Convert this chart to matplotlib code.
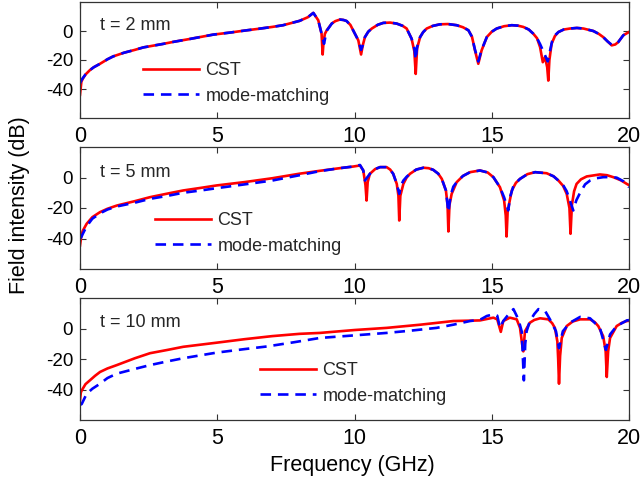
import numpy as np
import matplotlib
matplotlib.use("Agg")
import matplotlib.pyplot as plt

plt.rcParams['font.family'] = ['Liberation Sans', 'DejaVu Sans']
plt.rcParams['axes.unicode_minus'] = False

# ---------------- data (frequency GHz, field intensity dB) ----------------
panel_labels = ["t = 2 mm", "t = 5 mm", "t = 10 mm"]
series_names = ["CST", "mode-matching"]
x_ticks = [0, 5, 10, 15, 20]
y_ticks = [-40, -20, 0]

cst_2mm = [(0, -44), (0.05, -35), (0.1, -33), (0.2, -30), (0.36, -27), (0.5, -25), (0.73, -22.6),
           (1.0, -19.5), (1.21, -17.5), (1.6, -15), (2.0, -13), (2.31, -11.3), (3.0, -9), (3.4, -7.5),
           (4.0, -5.5), (4.85, -2.5), (5.5, -1), (6.0, 0.3), (6.5, 1.5), (7.0, 2.8), (7.4, 4), (8.0, 7),
           (8.3, 9.5), (8.5, 12.5), (8.68, 7.4), (8.8, -1.8), (8.84, -16.2), (8.87, -8), (8.92, -2),
           (8.99, 0.5), (9.17, 5.1), (9.3, 6.8), (9.47, 7.9), (9.6, 7.6), (9.71, 6.9), (9.85, 4.2),
           (9.95, 0.5), (10.14, -6.5), (10.24, -16.2),
           (10.3, -10), (10.38, -4.2), (10.5, -0.5), (10.63, 1.7), (10.85, 4.3), (11.05, 5.6),
           (11.3, 5.8), (11.54, 5.1), (11.75, 3.6), (11.9, 1.7), (12.08, -5.3),
           (12.18, -14), (12.23, -29.6), (12.28, -12), (12.39, -4.2), (12.5, -0.8), (12.63, 1.7),
           (12.85, 3.5), (13.11, 4.6), (13.4, 4.8), (13.72, 4.0), (13.95, 2.6), (14.15, 0.5),
           (14.28, -4), (14.39, -13.4), (14.51, -22.6), (14.63, -13.4), (14.82, -4.2), (15.0, -0.5),
           (15.18, 1.7), (15.45, 3.3), (15.73, 4.0), (15.95, 3.7), (16.15, 2.8), (16.35, 1), (16.51, -1.8),
           (16.65, -5), (16.76, -11.1), (16.86, -21.5),
           (16.94, -18), (17.02, -25), (17.06, -34.2), (17.1, -20), (17.18, -8.8), (17.3, -3.5),
           (17.43, -0.7), (17.62, 1), (17.85, 1.7), (18.1, 2.1), (18.34, 1.7), (18.7, 0),
           (18.9, -2), (19.06, -4.2), (19.22, -7.2), (19.37, -9.9), (19.5, -9.3), (19.61, -7.6),
           (19.79, -3), (20.0, -0.7)]

mm_2mm = [(0, -36), (0.05, -34), (0.1, -32.5), (0.2, -30), (0.36, -27), (0.5, -25), (0.73, -22.6),
          (1.0, -19.5), (1.21, -17.5), (1.6, -15), (2.0, -13), (2.31, -11.3), (3.0, -9), (3.4, -7.5),
          (4.0, -5.5), (4.85, -2.5), (5.5, -1), (6.0, 0.3), (6.5, 1.5), (7.0, 2.8), (7.4, 4), (8.0, 7),
          (8.3, 9.5), (8.5, 12.5), (8.68, 7.4), (8.8, -1.8), (8.89, -8.8), (8.95, -3), (9.0, 0.5),
          (9.17, 5.1), (9.3, 6.8), (9.47, 7.9), (9.6, 7.6), (9.71, 6.9), (9.85, 4.2), (9.95, 0.5),
          (10.14, -6.5), (10.24, -13), (10.3, -10),
          (10.38, -4.2), (10.5, -0.5), (10.63, 1.7), (10.85, 4.3), (11.05, 5.6), (11.3, 5.8),
          (11.54, 5.1), (11.75, 3.6), (11.9, 1.7), (12.08, -5.3),
          (12.18, -12), (12.23, -19.8), (12.28, -11), (12.39, -4.2), (12.5, -0.8), (12.63, 1.7),
          (12.85, 3.5), (13.11, 4.6), (13.4, 4.8), (13.72, 4.0), (13.95, 2.6), (14.15, 0.5),
          (14.28, -4), (14.39, -13), (14.51, -21), (14.63, -13), (14.82, -4.2), (15.0, -0.5),
          (15.18, 1.7), (15.45, 3.3), (15.73, 4.0), (15.95, 3.7), (16.15, 2.8), (16.35, 1),
          (16.51, -1.8), (16.65, -5), (16.76, -9), (16.9, -15),
          (17.04, -21), (17.12, -14), (17.2, -7), (17.3, -3), (17.43, -0.7), (17.62, 1), (17.85, 1.7),
          (18.1, 2.1), (18.34, 1.7), (18.7, 0), (18.9, -2),
          (19.06, -4.2), (19.22, -7.2), (19.37, -9.5), (19.5, -9), (19.61, -7.6), (19.79, -3),
          (20.0, -0.7)]

cst_5mm = [(0, -44.6), (0.05, -38), (0.1, -35), (0.24, -30.4), (0.45, -26), (0.73, -22.7), (1.0, -20.5),
           (1.34, -18.4), (2.0, -15.5), (2.55, -12.9), (3.2, -10.5), (3.76, -8.5), (4.4, -6.8),
           (4.98, -5.2), (6.0, -3), (7.0, -0.5), (8.0, 2.5), (8.74, 4.4), (9.5, 6.2), (9.96, 7.2),
           (10.2, 7.9), (10.32, 4.6), (10.4, -5), (10.44, -15.1), (10.48, -3), (10.56, 2.4),
           (10.75, 5.5), (10.93, 6.8), (11.17, 6.8), (11.3, 5.2), (11.41, 2.4), (11.54, -4.2),
           (11.6, -12), (11.63, -28.2),
           (11.67, -12), (11.78, -4.2), (11.9, 0), (12.02, 2.4), (12.25, 5.2), (12.51, 6.4),
           (12.7, 6.1), (12.87, 5), (13.05, 2.5), (13.18, -0.9),
           (13.33, -8.5), (13.39, -18), (13.42, -35.4), (13.46, -18), (13.54, -10.7), (13.72, -3.1),
           (13.95, 1), (14.21, 3.5), (14.57, 4.6), (14.85, 3.3), (15.06, 0.2), (15.3, -6.4),
           (15.45, -15), (15.51, -25),
           (15.54, -38.7), (15.58, -22), (15.73, -8.5), (15.88, -3.5), (16.03, -0.9), (16.3, 2.2),
           (16.58, 3.5), (17.0, 2.8), (17.25, 0.8),
           (17.43, -2), (17.6, -5.5), (17.73, -10.7), (17.83, -20), (17.87, -36.9), (17.92, -18),
           (18.0, -9), (18.09, -4.2), (18.25, -1.2),
           (18.46, 0.7), (18.94, 2), (19.2, 1.5), (19.43, 0.2), (19.7, -1.8), (19.92, -4.2), (20.0, -5)]

mm_5mm = [(0, -40), (0.05, -39), (0.1, -37), (0.24, -32), (0.45, -27), (0.73, -23.5), (1.0, -21),
          (1.34, -19), (2.0, -16.5), (2.55, -14), (3.2, -12), (3.76, -10), (4.4, -8.5), (4.98, -7),
          (6.0, -4.5), (7.0, -2), (8.0, 1.5), (8.74, 4.2), (9.5, 6.2), (9.96, 7.2), (10.2, 8.2),
          (10.32, 4.6), (10.38, -2), (10.46, 0), (10.56, 2.4), (10.75, 5.5), (10.93, 6.8), (11.17, 6.8),
          (11.3, 5.2), (11.41, 2.4), (11.54, -4.2), (11.63, -10.7), (11.7, -5), (11.78, -2), (11.9, 0.5),
          (12.02, 2.4), (12.25, 5.2), (12.51, 6.4), (12.7, 6.1),
          (12.87, 5), (13.05, 2.5), (13.18, -0.9), (13.33, -8.5), (13.42, -22.7), (13.5, -12), (13.6, -6),
          (13.72, -3.1), (13.95, 1), (14.21, 3.5), (14.57, 4.6), (14.85, 3.3), (15.06, 0.2), (15.3, -6.4),
          (15.45, -13), (15.6, -21.6), (15.68, -12), (15.8, -5), (16.03, -0.9), (16.3, 2.2), (16.58, 3.5),
          (17.0, 2.8), (17.25, 0.8),
          (17.43, -2), (17.6, -5), (17.73, -9), (17.97, -21.6), (18.08, -15), (18.2, -10.7),
          (18.4, -4.5), (18.58, -2), (18.8, -0.5),
          (19.06, 0.2), (19.3, 0.3), (19.55, -0.1), (19.8, -2.5), (20.0, -6.4)]

cst_10mm = [(0, -47), (0.03, -42), (0.06, -40.7), (0.2, -36.5), (0.36, -34), (0.55, -31),
            (0.73, -28.5), (1.0, -26.2),
            (1.34, -24), (2.0, -19.5), (2.55, -16.2), (3.2, -14), (3.76, -12), (4.98, -9.3), (6.0, -7),
            (7.0, -5), (8.0, -3.5), (8.74, -2.9), (10.0, -1), (11.17, 0.4), (12.4, 2.5), (13.6, 4.9),
            (14.57, 5.3), (15.06, 7.1), (15.2, 6), (15.33, -2.2), (15.42, 4.9), (15.66, 7.1),
            (15.91, 6), (16.03, 0.4), (16.11, -10.7), (16.15, -15), (16.21, -1.8), (16.39, 3.8),
            (16.55, 5.6), (16.76, 6.7), (17.06, 6), (17.2, 3.5), (17.3, 0.4), (17.39, -8.5),
            (17.42, -20), (17.45, -36.2),
            (17.49, -18), (17.55, -6.2), (17.73, 1.6), (17.95, 4.6), (18.22, 6), (18.58, 6),
            (18.75, 4.2), (18.88, 1.6),
            (19.06, -5.1), (19.15, -15), (19.19, -31.8), (19.24, -15), (19.31, -6.2), (19.55, 1.6),
            (19.75, 3.8), (19.92, 4.9), (20.0, 5)]

mm_10mm = [(0, -50), (0.06, -49.6), (0.24, -42.9), (0.45, -39.5), (0.73, -36.2), (1.0, -32.5),
           (1.34, -29.6),
           (2.0, -26.5), (2.55, -24), (3.2, -21.5), (3.76, -19.5), (4.98, -15.8), (6.0, -13.5),
           (6.8, -11.8), (7.8, -9), (8.74, -6.2), (10.0, -4.5), (11.17, -2.9), (12.0, -1.5),
           (12.99, 0.4), (13.6, 2.5), (14.21, 4.9), (14.57, 5.7), (14.82, 8.2), (15.06, 9.3),
           (15.2, 8.4), (15.3, 0.4), (15.42, 4.9), (15.6, 9), (15.79, 12.7), (15.97, 6), (16.09, -1.8),
           (16.13, -17.3), (16.17, -34), (16.22, -10), (16.27, -1.8), (16.39, 4.9), (16.55, 9.5),
           (16.7, 12.7),
           (16.94, 11.6), (17.12, 6), (17.34, -1.8), (17.45, -12.9), (17.59, -1.8), (17.85, 3.8),
           (18.22, 7.6), (18.58, 6.7), (18.94, 0.4), (19.16, -14), (19.31, -3.9), (19.55, 1.6),
           (19.92, 5.3), (20.0, 5.5)]

panels = [(cst_2mm, mm_2mm), (cst_5mm, mm_5mm), (cst_10mm, mm_10mm)]

# ---------------- layout ----------------
W, H = 642, 483
fig = plt.figure(figsize=(W / 100, H / 100), dpi=100)

left, right = 80 / W, 629 / W
boxes = [(2, 118), (147, 269), (298, 420)]          # (top, bottom) in pixels
legend_anchor = [(0.115, 0.297), (0.137, 0.291), (0.328, 0.299)]
label_y = [0.80, 0.795, 0.803]

text_col = '#262626'
for i, ((top, bot), (cst, mm)) in enumerate(zip(boxes, panels)):
    ax = fig.add_axes([left, 1 - bot / H, right - left, (bot - top) / H])
    fc, dc = np.array(cst).T
    fm, dm = np.array(mm).T
    ax.plot(fc, dc, color='#ff0000', lw=1.9, solid_joinstyle='round', label=series_names[0])
    l2, = ax.plot(fm, dm, color='#0000ff', lw=1.9, label=series_names[1])
    l2.set_dashes([4, 2.6])
    ax.set_xlim(0, 20)
    ax.set_ylim(-60, 20)
    ax.set_xticks(x_ticks)
    ax.set_yticks(y_ticks)
    ax.tick_params(axis='both', direction='in', top=True, right=True, length=4,
                   width=0.8, color='#333333')
    ax.tick_params(axis='x', labelsize=15.5, pad=6)
    ax.tick_params(axis='y', labelsize=13.5, pad=5)
    for s in ax.spines.values():
        s.set_color('#333333')
        s.set_linewidth(0.9)
    ax.text(0.036, label_y[i], panel_labels[i], transform=ax.transAxes, fontsize=13,
            color=text_col, va='center', ha='left')
    leg = ax.legend(loc='center left', bbox_to_anchor=legend_anchor[i], frameon=False,
                    fontsize=13, handlelength=3.1, handletextpad=0.35, labelspacing=0.45,
                    borderpad=0, borderaxespad=0)
    for t in leg.get_texts():
        t.set_color(text_col)

fig.text(20 / W, 1 - 205 / H, "Field intensity (dB)", rotation=90, fontsize=15.5,
         ha='center', va='center')
fig.text(352 / W, 1 - 465 / H, "Frequency (GHz)", fontsize=15.5, ha='center', va='center')

fig.savefig("out.png", dpi=100)
